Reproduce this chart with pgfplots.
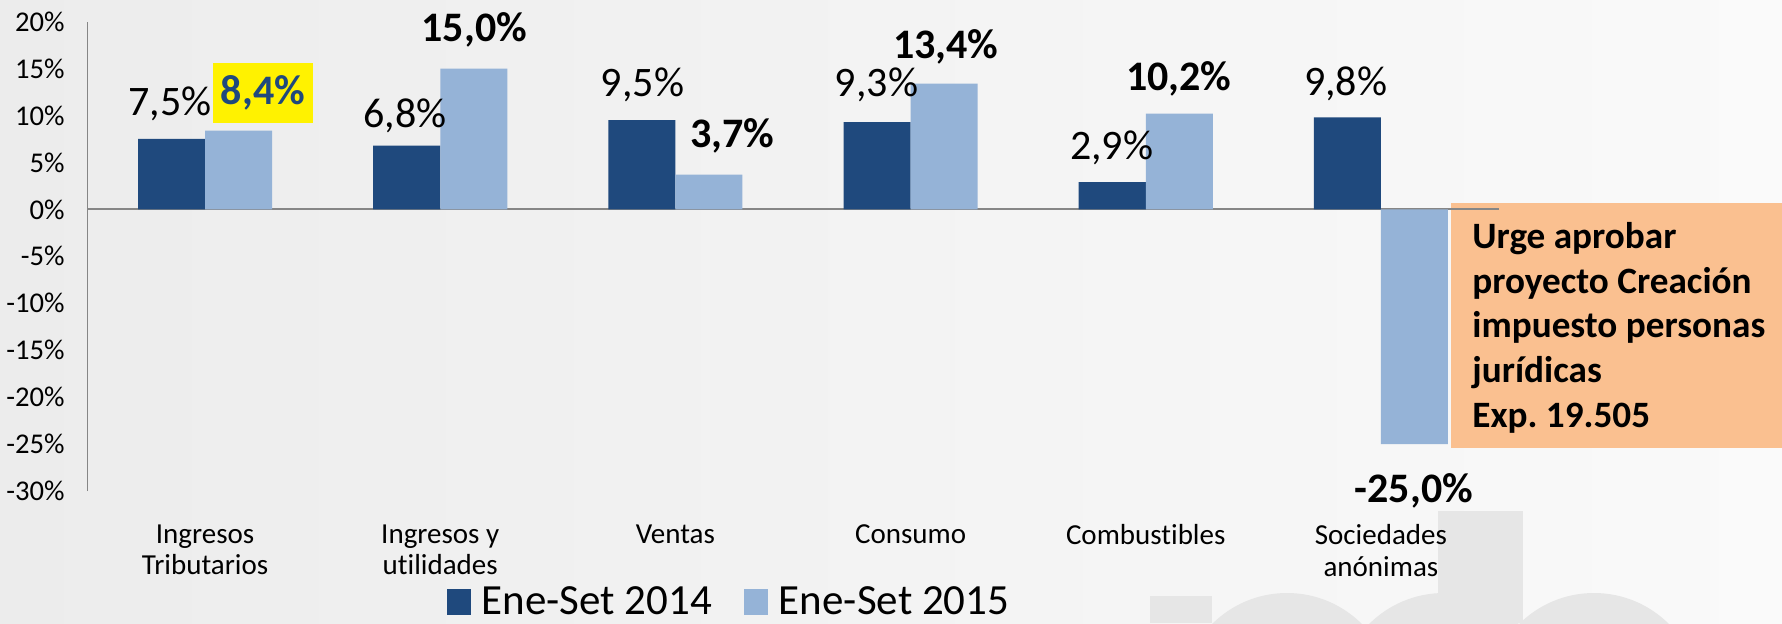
\documentclass[border=0pt]{standalone}
\usepackage{fontspec}
\setmainfont{Carlito}[Ligatures=NoCommon]
\usepackage{pgfplots}
\pgfplotsset{compat=1.18}
\definecolor{dark}{HTML}{1F497D}
\definecolor{light}{HTML}{95B3D7}
\definecolor{boxor}{HTML}{FAC090}
\definecolor{axgray}{HTML}{868686}
\definecolor{wm}{HTML}{E6E6E6}
\begin{document}
\begin{tikzpicture}
\useasboundingbox (0,0) rectangle (891pt,311.5pt);
\clip (0,0) rectangle (891pt,311.5pt);
\shade[left color={rgb,255:red,236;green,236;blue,236}, right color={rgb,255:red,250;green,250;blue,250}] (0,0) rectangle (891pt,311.5pt);
% faint watermark
\fill[wm] (643.5pt,-38pt) circle (53pt);
\fill[wm] (722pt,-38pt) circle (53pt);
\fill[wm] (797pt,-38pt) circle (53pt);
\fill[wm] (719pt,0pt) rectangle (761.5pt,56pt);
\fill[wm] (575pt,0pt) rectangle (606pt,13.5pt);
% annotation box
\fill[boxor] (725.5pt,87.5pt) rectangle (891pt,210pt);
\begin{axis}[
  scale only axis, width=705.5pt, height=234.7pt,
  at={(43.75pt,66pt)}, anchor=south west,
  xmin=-0.5, xmax=5.5, ymin=-30, ymax=20,
  clip=false,
  axis line style={draw=none}, tick style={draw=none},
  xtick={0,1,2,3,4,5},
  xticklabels={{Ingresos\\Tributarios},{Ingresos y\\utilidades},{Ventas},{Consumo},{Combustibles},{Sociedades\\anónimas}},
  xticklabel style={align=center, anchor=north, inner sep=0pt, font=\fontsize{14.5}{15.9}\selectfont, yshift=-16.5pt},
  ytick={-30,-25,-20,-15,-10,-5,0,5,10,15,20},
  yticklabels={-30\%,-25\%,-20\%,-15\%,-10\%,-5\%,0\%,5\%,10\%,15\%,20\%},
  yticklabel style={font=\fontsize{14.3}{14.3}\selectfont, anchor=east, inner sep=0pt, xshift=-11.3pt},
  extra y ticks={0}, extra y tick labels={},
  extra y tick style={grid=major, major grid style={axgray, line width=0.9pt}},
  extra x ticks={-0.5}, extra x tick labels={},
  extra x tick style={grid=major, major grid style={axgray, line width=0.9pt}},
  legend columns=2,
  legend style={draw=none, fill=none, inner sep=0pt, outer sep=0pt,
    at={(rel axis cs:0.2545,-0.2365)}, anchor=west,
    font=\fontsize{21.5}{21.5}\selectfont,
    nodes={inner sep=0pt},
    /tikz/every odd column/.append style={column sep=5.5pt},
    /tikz/every even column/.append style={column sep=16pt}},
]
\addplot[ybar, bar width=0.285, bar shift=-0.1425, fill=dark, draw=none,
  legend image code/.code={\fill[dark] (0pt,-6.5pt) rectangle (12pt,6.5pt);}]
  coordinates {(0,7.5) (1,6.8) (2,9.5) (3,9.3) (4,2.9) (5,9.8)};
\addlegendentry{Ene-Set 2014}
\addplot[ybar, bar width=0.285, bar shift=0.1425, fill=light, draw=none,
  legend image code/.code={\fill[light] (0pt,-6.5pt) rectangle (12pt,6.5pt);}]
  coordinates {(0,8.4) (1,15.0) (2,3.7) (3,13.4) (4,10.2) (5,-25.0)};
\addlegendentry{Ene-Set 2015}
% data labels
\begin{scope}[every node/.style={anchor=base, inner sep=0pt, font=\fontsize{21}{21}\selectfont}]
\node at (axis cs:-0.150,9.95) {7,5\%};
\node at (axis cs:0.850,8.75) {6,8\%};
\node at (axis cs:1.860,12.05) {9,5\%};
\node at (axis cs:2.855,12.05) {9,3\%};
\node at (axis cs:3.855,5.35) {2,9\%};
\node at (axis cs:4.850,12.15) {9,8\%};
\node[font=\bfseries\fontsize{21}{21}\selectfont] at (axis cs:1.145,17.85) {15,0\%};
\node[font=\bfseries\fontsize{21}{21}\selectfont] at (axis cs:2.242,6.55) {3,7\%};
\node[font=\bfseries\fontsize{21}{21}\selectfont] at (axis cs:3.150,16.05) {13,4\%};
\node[font=\bfseries\fontsize{21}{21}\selectfont] at (axis cs:4.140,12.65) {10,2\%};
\node[font=\bfseries\fontsize{21}{21}\selectfont] at (axis cs:5.140,-31.25) {-25,0\%};
\end{scope}
\node[fill=yellow, text=dark, font=\bfseries\fontsize{21}{21}\selectfont, minimum width=50pt, minimum height=30pt, inner sep=0pt, anchor=center] at (axis cs:0.246,12.42) {8,4\%};
\end{axis}
\begin{scope}[every node/.style={anchor=base west, inner sep=0pt, font=\bfseries\fontsize{18.6}{22}\selectfont}]
\node at (736pt,187.5pt) {Urge aprobar};
\node at (736pt,165pt) {proyecto Creación};
\node at (736pt,143pt) {impuesto personas};
\node at (736pt,120.5pt) {jurídicas};
\node at (736pt,98pt) {Exp.\ 19.505};
\end{scope}
\end{tikzpicture}
\end{document}
